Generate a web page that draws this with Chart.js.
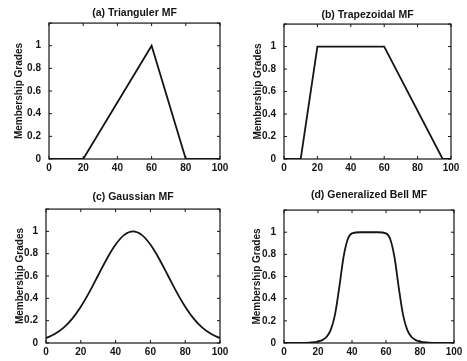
<!DOCTYPE html>
<html>
<head>
<meta charset="utf-8">
<script src="https://cdn.jsdelivr.net/npm/chart.js@4/dist/chart.umd.min.js"></script>
<style>
  html, body { margin: 0; padding: 0; background: #fff; }
  body { width: 467px; height: 361px; position: relative; overflow: hidden; }
  .panel { position: absolute; }
</style>
</head>
<body>
<div class="panel" style="left:0;top:0;width:233px;height:180px"><canvas id="triChart"></canvas></div>
<div class="panel" style="left:233px;top:0;width:234px;height:180px"><canvas id="trapChart"></canvas></div>
<div class="panel" style="left:0;top:180px;width:233px;height:181px"><canvas id="gaussChart"></canvas></div>
<div class="panel" style="left:233px;top:180px;width:234px;height:181px"><canvas id="bellChart"></canvas></div>
<script>
// membership function samples
const triX = [0, 20, 60, 80, 100];
const triY = [0, 0, 1, 0, 0];

const trapX = [0, 10, 20, 60, 95, 100];
const trapY = [0, 0, 1, 1, 0, 0];

const gaussX = [0, 5, 10, 15, 20, 25, 30, 35, 40, 45, 50, 55, 60, 65, 70, 75, 80, 85, 90, 95, 100];
const gaussY = [0.044, 0.08, 0.135, 0.216, 0.325, 0.458, 0.607, 0.755, 0.882, 0.969, 1.0, 0.969, 0.882, 0.755, 0.607, 0.458, 0.325, 0.216, 0.135, 0.08, 0.044];

const bellX = [0, 10, 15, 20, 22.5, 25, 27.5, 30, 32.5, 35, 37.5, 40, 45, 50, 55, 60, 62.5, 65, 67.5, 70, 72.5, 75, 77.5, 80, 85, 90, 100];
const bellY = [0, 0, 0.004, 0.013, 0.026, 0.054, 0.118, 0.256, 0.5, 0.774, 0.937, 0.989, 1.0, 1.0, 1.0, 0.989, 0.937, 0.774, 0.5, 0.256, 0.118, 0.054, 0.026, 0.013, 0.004, 0, 0];

const xTicks = [0, 20, 40, 60, 80, 100];
const yTicks = [0, 0.2, 0.4, 0.6, 0.8, 1, 1.2];
const yLabelMax = 1;

const yTitle = "Membership Grades";

const FONT = "'Liberation Sans', Arial, Helvetica, sans-serif";
const INK = "#151515";

// matlab-ish box with inward tick marks on all four sides,
// and the title centred over the plot box instead of the canvas
const boxPlugin = {
  id: "matlabBox",
  afterLayout(chart) {
    if (chart.titleBlock) {
      chart.titleBlock.left = chart.chartArea.left;
      chart.titleBlock.right = chart.chartArea.right;
      chart.titleBlock.width = chart.chartArea.right - chart.chartArea.left;
    }
  },
  afterDatasetsDraw(chart) {
    const { ctx, chartArea: a, scales } = chart;
    const len = 3;
    ctx.save();
    ctx.strokeStyle = INK;
    ctx.lineWidth = 1.2;
    ctx.strokeRect(a.left, a.top, a.right - a.left, a.bottom - a.top);
    ctx.lineWidth = 1;
    ctx.beginPath();
    xTicks.forEach((v) => {
      const px = scales.x.getPixelForValue(v);
      ctx.moveTo(px, a.bottom);
      ctx.lineTo(px, a.bottom - len);
      ctx.moveTo(px, a.top);
      ctx.lineTo(px, a.top + len);
    });
    yTicks.forEach((v) => {
      const py = scales.y.getPixelForValue(v);
      ctx.moveTo(a.left, py);
      ctx.lineTo(a.left + len, py);
      ctx.moveTo(a.right, py);
      ctx.lineTo(a.right - len, py);
    });
    ctx.stroke();
    ctx.restore();
  },
};

function makePoints(xs, ys) {
  return xs.map((x, i) => ({ x: x, y: ys[i] }));
}

function drawPanel(id, title, xs, ys, geom) {
  new Chart(document.getElementById(id), {
    type: "scatter",
    data: {
      datasets: [
        {
          data: makePoints(xs, ys),
          showLine: true,
          borderColor: INK,
          borderWidth: 1.8,
          pointRadius: 0,
          tension: geom.tension,
          cubicInterpolationMode: geom.tension ? "monotone" : "default",
        },
      ],
    },
    options: {
      responsive: true,
      maintainAspectRatio: false,
      animation: false,
      layout: { padding: { left: 0, right: geom.right, top: 0, bottom: 0 } },
      plugins: {
        legend: { display: false },
        tooltip: { enabled: false },
        title: {
          display: true,
          text: title,
          color: INK,
          font: { family: FONT, size: 10.5, weight: "bold", lineHeight: 1.15 },
          padding: { top: geom.titleTop, bottom: geom.titleBottom },
        },
      },
      scales: {
        x: {
          type: "linear",
          min: 0,
          max: 100,
          afterBuildTicks: (scale) => {
            scale.ticks = xTicks.map((v) => ({ value: v }));
          },
          afterFit: (scale) => {
            scale.height = geom.xHeight;
          },
          grid: { display: false, drawTicks: false },
          border: { display: false },
          ticks: {
            color: INK,
            padding: 3,
            maxRotation: 0,
            font: { family: FONT, size: 10, weight: "bold" },
          },
        },
        y: {
          min: 0,
          max: 1.2,
          afterBuildTicks: (scale) => {
            scale.ticks = yTicks.map((v) => ({ value: v }));
          },
          afterFit: (scale) => {
            scale.width = geom.yWidth;
          },
          grid: { display: false, drawTicks: false },
          border: { display: false },
          ticks: {
            color: INK,
            padding: 8,
            font: { family: FONT, size: 10, weight: "bold" },
            callback: (v) => (v > yLabelMax ? "" : String(Math.round(v * 10) / 10)),
          },
          title: {
            display: true,
            text: yTitle,
            color: INK,
            font: { family: FONT, size: 10, weight: "bold", lineHeight: 1.2 },
            padding: { top: geom.yTitlePad, bottom: 0 },
          },
        },
      },
    },
    plugins: [boxPlugin],
  });
}

drawPanel("triChart", "(a) Trianguler MF", triX, triY, {
  right: 13, titleTop: 7, titleBottom: 4, xHeight: 21, yWidth: 49, yTitlePad: 13, tension: 0,
});
drawPanel("trapChart", "(b) Trapezoidal MF", trapX, trapY, {
  right: 16, titleTop: 9, titleBottom: 3, xHeight: 21, yWidth: 51, yTitlePad: 19, tension: 0,
});
drawPanel("gaussChart", "(c) Gaussian MF", gaussX, gaussY, {
  right: 13, titleTop: 11, titleBottom: 6, xHeight: 18, yWidth: 46, yTitlePad: 14, tension: 0.4,
});
drawPanel("bellChart", "(d) Generalized Bell MF", bellX, bellY, {
  right: 13, titleTop: 9, titleBottom: 9, xHeight: 18, yWidth: 51, yTitlePad: 18, tension: 0.4,
});
</script>
</body>
</html>
